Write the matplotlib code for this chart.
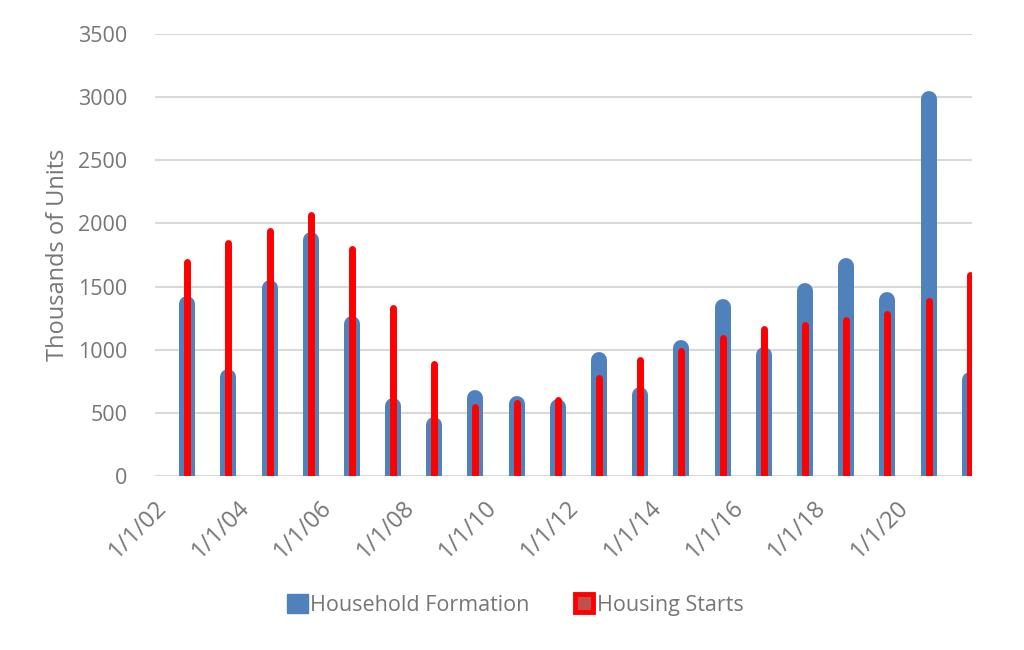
import matplotlib.pyplot as plt
import matplotlib.transforms as mtransforms
from matplotlib.patches import Patch
from matplotlib.lines import Line2D

# data (thousands of units)
years = list(range(2003, 2023))
household_formation = [1426, 848, 1553, 1933, 1268, 620, 467, 679, 634, 608,
                       985, 705, 1078, 1400, 1022, 1529, 1730, 1460, 3045, 826]
housing_starts = [1725, 1870, 1967, 2092, 1828, 1360, 917, 573, 602, 631,
                  806, 944, 1017, 1123, 1194, 1223, 1262, 1307, 1410, 1619]
tick_years = list(range(2002, 2022, 2))
tick_labels = ["1/1/%02d" % (y % 100) for y in tick_years]

BLUE = "#4F81BD"
RED = "#FF0000"
GREY = "#767676"
plt.rcParams['font.family'] = ['Open Sans', 'DejaVu Sans']

fig = plt.figure(figsize=(10.24, 6.5), dpi=100)
ax = fig.add_axes([0.1514, 0.2677, 0.7976, 0.68])

x = [y - 0.22 for y in years]  # Excel date axis puts bars a bit before Jan 1

blue_lw = 11.5
red_lw = 5.0
# shift lines down by half the cap so the round tops end at the value
blue_tr = mtransforms.offset_copy(ax.transData, fig=fig, y=-blue_lw / 2, units='points')
red_tr = mtransforms.offset_copy(ax.transData, fig=fig, y=-red_lw / 2, units='points')

b = ax.vlines(x, -200, household_formation, colors=BLUE, linewidth=blue_lw,
              transform=blue_tr, zorder=3)
b.set_capstyle('round')
r = ax.vlines(x, -200, housing_starts, colors=RED, linewidth=red_lw,
              transform=red_tr, zorder=4)
r.set_capstyle('round')

ax.set_xlim(2002, 2021.83)
ax.set_ylim(0, 3500)
ax.set_yticks(range(0, 3501, 500))
ax.set_xticks(tick_years)
ax.set_xticklabels(tick_labels, rotation=45, ha='right', rotation_mode='anchor')
ax.tick_params(axis='both', length=0, labelsize=15.5, labelcolor=GREY)
ax.tick_params(axis='x', labelsize=17, pad=14)
ax.tick_params(axis='y', pad=20)
ax.grid(axis='y', color='#D9D9D9', linewidth=1.5, zorder=0)
ax.set_axisbelow(True)
for s in ax.spines.values():
    s.set_visible(False)

ax.set_ylabel("Thousands of Units", fontsize=17, color=GREY, labelpad=6)

handles = [
    Patch(facecolor=BLUE, edgecolor=BLUE, linewidth=1, joinstyle='round'),
    Line2D([], [], linestyle='none', marker='s', markersize=13,
           markerfacecolor='#C0504D', markeredgecolor=RED, markeredgewidth=3.5),
]
leg = fig.legend(handles, ["Household Formation", "Housing Starts"],
                 loc='center', bbox_to_anchor=(0.503, 0.069), ncol=2,
                 frameon=False, fontsize=15.5, handlelength=1.0, handleheight=1.0,
                 handletextpad=0.1, columnspacing=2.0)
for t in leg.get_texts():
    t.set_color(GREY)

fig.savefig("out.png", dpi=100)
